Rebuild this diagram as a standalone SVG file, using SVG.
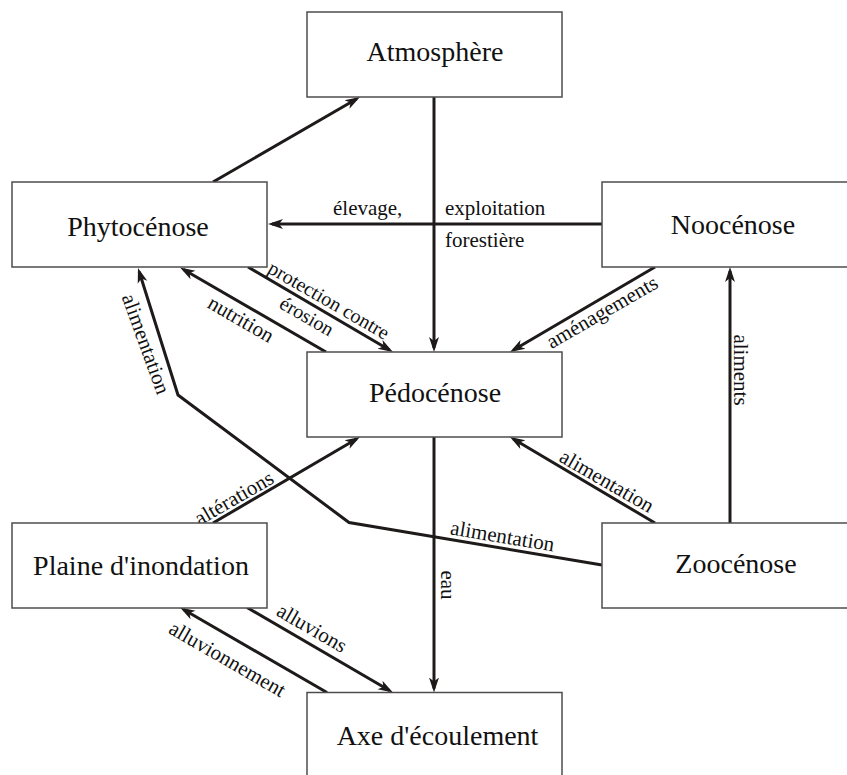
<svg xmlns="http://www.w3.org/2000/svg" width="847" height="775" viewBox="0 0 847 775">
<style>
.box{fill:#fff;stroke:#4d4d4d;stroke-width:1.5}
.nt{font-family:'Liberation Serif','DejaVu Serif',serif;font-size:28px;fill:#111;text-anchor:middle}
.c{fill:none;stroke:#1e1a1a;stroke-width:3;marker-end:url(#ah)}
.lb{font-family:'Liberation Serif','DejaVu Serif',serif;font-size:21px;fill:#111}
.lm{text-anchor:middle}
.sm{font-size:20px}
</style>
<defs>
<marker id="ah" markerUnits="userSpaceOnUse" markerWidth="16" markerHeight="12" viewBox="0 0 16 12" refX="11" refY="6" orient="auto">
<path d="M0,1 L15,6 L0,11 L4,6 z" fill="#1e1a1a"/>
</marker>
</defs>
<rect width="847" height="775" fill="#fff"/>
<g id="connectors">
<line class="c" x1="213" y1="182" x2="356.5" y2="99"/>
<line class="c" x1="434" y1="97" x2="434" y2="348"/>
<line class="c" x1="602" y1="224" x2="272" y2="224"/>
<line class="c" x1="655" y1="267" x2="513.5" y2="350"/>
<line class="c" x1="326" y1="352" x2="183.5" y2="269.5"/>
<line class="c" x1="248" y1="267" x2="389.5" y2="350"/>
<line class="c" x1="730" y1="523" x2="730" y2="271"/>
<polyline class="c" points="602,565 349,522.5 178,395 139.2,271.8"/>
<line class="c" x1="655" y1="523" x2="513.4" y2="439"/>
<line class="c" x1="213" y1="523" x2="356.5" y2="439"/>
<line class="c" x1="434" y1="437" x2="434" y2="688.5"/>
<line class="c" x1="247" y1="607.5" x2="389.5" y2="690.5"/>
<line class="c" x1="327" y1="692.5" x2="183.5" y2="609.5"/>
<text class="lb" x="333" y="215">élevage,</text>
<text class="lb" x="445" y="215">exploitation</text>
<text class="lb" x="445" y="247">forestière</text>
<text class="lb lm" transform="translate(241,319) rotate(30)" y="7">nutrition</text>
<text class="lb lm sm" transform="translate(329,300) rotate(30)" y="7">protection contre</text>
<text class="lb lm sm" transform="translate(307,316) rotate(30)" y="7">érosion</text>
<text class="lb lm" transform="translate(602,312) rotate(-30)" y="7">aménagements</text>
<text class="lb lm" transform="translate(146,344) rotate(70)" y="7">alimentation</text>
<text class="lb lm" transform="translate(741,370) rotate(90)" y="7">aliments</text>
<text class="lb lm" transform="translate(234,498) rotate(-30)" y="7">altérations</text>
<text class="lb lm" transform="translate(607,481) rotate(30)" y="7">alimentation</text>
<text class="lb lm" transform="translate(502.5,536) rotate(9.5)" y="7">alimentation</text>
<text class="lb lm" transform="translate(448,585) rotate(90)" y="7">eau</text>
<text class="lb lm" transform="translate(312,628) rotate(30)" y="7">alluvions</text>
<text class="lb lm" transform="translate(227.5,659) rotate(30)" y="7">alluvionnement</text>
</g>
<g id="atmosphere"><rect class="box" x="307" y="12" width="255" height="85"/><text class="nt" x="435" y="61">Atmosphère</text></g>
<g id="phytocenose"><rect class="box" x="12" y="182" width="255" height="85"/><text class="nt" x="138" y="236">Phytocénose</text></g>
<g id="noocenose"><rect class="box" x="602" y="182" width="255" height="85"/><text class="nt" x="733" y="234">Noocénose</text></g>
<g id="pedocenose"><rect class="box" x="307" y="352" width="255" height="85"/><text class="nt" x="435" y="402">Pédocénose</text></g>
<g id="plaine"><rect class="box" x="12" y="523" width="255" height="85"/><text class="nt" x="141" y="575">Plaine d'inondation</text></g>
<g id="zoocenose"><rect class="box" x="602" y="523" width="255" height="85"/><text class="nt" x="736" y="573">Zoocénose</text></g>
<g id="axe"><rect class="box" x="307" y="692.5" width="255" height="95"/><text class="nt" x="437.5" y="745">Axe d'écoulement</text></g>
</svg>
